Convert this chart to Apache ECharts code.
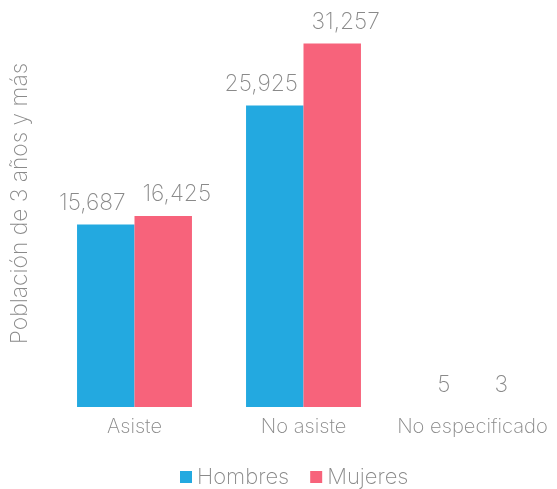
<!DOCTYPE html>
<html>
<head>
<meta charset="utf-8">
<script src="https://cdn.jsdelivr.net/npm/echarts@6/dist/echarts.min.js"></script>
<style>html,body{margin:0;padding:0;background:#fff}#c{width:557px;height:489px}</style>
</head>
<body>
<div id="c"></div>
<script>
var categories = ['Asiste', 'No asiste', 'No especificado'];
var hombres = [15687, 25925, 5];
var mujeres = [16425, 31257, 3];
var seriesNames = ['Hombres', 'Mujeres'];
var colors = ['#23a9e0', '#f7637b'];
var textColor = '#8a8a8a';
var font = 'Inter';
var fw = 200;

function fmt(v) { return v.toLocaleString('en-US'); }
// labels wider than the bar are nudged outward, as in the reference
function items(values, dir) {
  return values.map(function (v) {
    var wide = fmt(v).length > 2;
    return { value: v, label: { offset: [wide ? dir * 13.5 : 0, 0] } };
  });
}
function lbl() {
  return {
    show: true, position: 'top', distance: 10,
    color: textColor, fontFamily: font, fontWeight: fw, fontSize: 22.8,
    formatter: function (p) { return fmt(p.value); }
  };
}

var chart = echarts.init(document.getElementById('c'));
chart.setOption({
  animation: false,
  grid: { left: 50, top: -2, width: 510, bottom: 82, containLabel: false },
  legend: {
    top: 461, left: 175, itemWidth: 12, itemHeight: 12, itemGap: 21,
    icon: 'rect',
    textStyle: { color: textColor, fontFamily: font, fontWeight: fw, fontSize: 22 },
    data: seriesNames
  },
  xAxis: {
    type: 'category', data: categories,
    axisLine: { show: false }, axisTick: { show: false },
    axisLabel: { interval: 0, color: textColor, fontFamily: font, fontWeight: fw, fontSize: 20.2, margin: 10 }
  },
  yAxis: {
    type: 'value', min: 0, max: 35000,
    name: 'Población de 3 años y más', nameLocation: 'middle', nameGap: 18,
    nameTextStyle: { color: textColor, fontFamily: font, fontWeight: fw, fontSize: 22.8 },
    axisLine: { show: false }, axisTick: { show: false }, axisLabel: { show: false },
    splitLine: { show: false }
  },
  series: [
    { name: seriesNames[0], type: 'bar', data: items(hombres, -1), barGap: '0%', barCategoryGap: '32%',
      itemStyle: { color: colors[0] }, label: lbl() },
    { name: seriesNames[1], type: 'bar', data: items(mujeres, 1), barGap: '0%', barCategoryGap: '32%',
      itemStyle: { color: colors[1] }, label: lbl() }
  ]
});
</script>
</body>
</html>
